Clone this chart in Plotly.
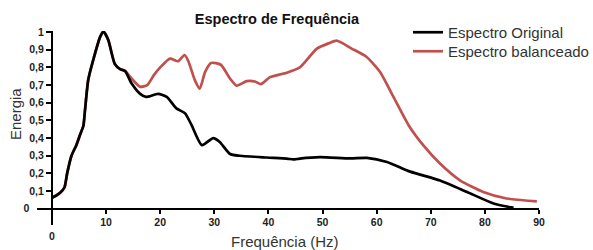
import plotly.graph_objects as go

# Data
freq_orig = [0, 0.8, 1.5, 2.3, 2.8, 3.6, 4.5, 5.2, 5.8, 6.1, 6.7, 7.6, 8.9, 9.5, 10.4, 11.6, 12.6,
             13.5, 14.7, 16.3, 17.4, 19.6, 21.2, 23.0, 24.6, 25.8, 27.7, 29.8, 31.0, 32.9, 34.7,
             39.7, 43.4, 44.6, 45.8, 49.5, 55.1, 58.2, 61.9, 66.2, 71.7, 76.7, 81.6, 85.3]
energia_orig = [0.062, 0.075, 0.09, 0.12, 0.2, 0.30, 0.36, 0.42, 0.47, 0.558, 0.73, 0.84, 0.973,
                1.003, 0.955, 0.82, 0.79, 0.78, 0.71, 0.65, 0.633, 0.65, 0.633, 0.568, 0.54, 0.473,
                0.36, 0.40, 0.378, 0.31, 0.30, 0.29, 0.284, 0.279, 0.284, 0.292, 0.285, 0.288,
                0.265, 0.21, 0.16, 0.095, 0.03, 0.005]

freq_bal = [0, 0.8, 1.5, 2.3, 2.8, 3.6, 4.5, 5.2, 5.8, 6.1, 6.7, 7.6, 8.9, 9.5, 10.4, 11.6, 12.6,
            13.5, 14.7, 16.3, 17.6, 18.8, 20.0, 21.8, 23.3, 24.5, 25.2, 26.4, 27.3, 28.3, 29.4,
            31.2, 32.9, 34.1, 36.0, 37.5, 38.6, 40.3, 43.4, 45.8, 48.9, 51.1, 52.7, 55.3, 58.1,
            60.6, 63.1, 65.9, 68.6, 71.7, 75.4, 79.7, 84.0, 89.6]
energia_bal = [0.062, 0.075, 0.09, 0.12, 0.2, 0.30, 0.36, 0.42, 0.47, 0.558, 0.73, 0.84, 0.973,
               1.003, 0.955, 0.82, 0.79, 0.78, 0.737, 0.69, 0.70, 0.755, 0.80, 0.85, 0.835, 0.87,
               0.835, 0.728, 0.68, 0.775, 0.825, 0.815, 0.737, 0.697, 0.722, 0.72, 0.705, 0.745,
               0.77, 0.80, 0.905, 0.936, 0.951, 0.908, 0.86, 0.775, 0.633, 0.473, 0.36, 0.256,
               0.161, 0.095, 0.058, 0.042]

x_ticks = [0, 10, 20, 30, 40, 50, 60, 70, 80, 90]
x_ticktext = ["<br>0", "10", "20", "30", "40", "50", "60", "70", "80", "90"]
y_ticks = [0, 0.1, 0.2, 0.3, 0.4, 0.5, 0.6, 0.7, 0.8, 0.9, 1]
y_ticktext = ["0\u00a0\u00a0\u00a0\u00a0\u00a0", "0,1", "0,2", "0,3", "0,4", "0,5", "0,6", "0,7",
              "0,8", "0,9", "1"]

x_range = [-2.77, 90]
y_range = [-0.092, 1.006]

RED = "#c0504d"
FONT = "Liberation Sans, Arial, sans-serif"

fig = go.Figure()
fig.add_trace(go.Scatter(x=freq_bal, y=energia_bal, mode="lines", name="Espectro balanceado",
                         line=dict(color=RED, width=2.7, shape="spline", smoothing=0.6),
                         legend="legend2"))
fig.add_trace(go.Scatter(x=freq_orig, y=energia_orig, mode="lines", name="Espectro Original",
                         line=dict(color="#000000", width=2.7, shape="spline", smoothing=0.6),
                         legend="legend"))

ypos = (0 - y_range[0]) / (y_range[1] - y_range[0])
xpos = (0 - x_range[0]) / (x_range[1] - x_range[0])

tickfont = dict(family=FONT, size=10.5, color="#222222", weight="bold")
legfont = dict(family=FONT, size=15, color="#333333")

fig.update_layout(
    width=593, height=250,
    margin=dict(l=37, r=54, t=31, b=25, autoexpand=False),
    paper_bgcolor="white", plot_bgcolor="white",
    title=dict(text="Espectro de Frequência", x=277 / 593, xanchor="center",
               y=1 - 19 / 250, yanchor="middle", yref="container",
               font=dict(family=FONT, size=14.5, color="#111111", weight="bold")),
    xaxis=dict(range=x_range, anchor="free", position=ypos, showline=True, linecolor="black",
               linewidth=2, ticks="outside", ticklen=4, tickwidth=1.5, tickcolor="black",
               tickvals=x_ticks, ticktext=x_ticktext, tickfont=tickfont, showgrid=False,
               zeroline=False, automargin=False),
    yaxis=dict(range=y_range, anchor="free", position=xpos, showline=True, linecolor="black",
               linewidth=2, ticks="outside", ticklen=5, tickwidth=1.5, tickcolor="black",
               tickvals=y_ticks, ticktext=y_ticktext, tickfont=tickfont, showgrid=False,
               zeroline=False, automargin=False),
    legend=dict(x=0.739, y=1 + (31 - 16) / 194, xanchor="left", yanchor="top",
                bgcolor="rgba(0,0,0,0)", font=legfont),
    legend2=dict(x=0.739, y=1 + (31 - 35) / 194, xanchor="left", yanchor="top",
                 bgcolor="rgba(0,0,0,0)", font=legfont),
    showlegend=True,
)

fig.add_annotation(text="Energia", xref="paper", yref="paper",
                   x=(15 - 37) / 502, y=(250 - 25 - 114) / 194,
                   showarrow=False, textangle=-90, xanchor="center", yanchor="middle",
                   font=dict(family=FONT, size=15, color="#333333"))
fig.add_annotation(text="Frequência (Hz)", xref="paper", yref="paper",
                   x=(285 - 37) / 502, y=-(241 - 225) / 194,
                   showarrow=False, xanchor="center", yanchor="middle",
                   font=dict(family=FONT, size=15, color="#333333"))

fig.write_html("out.html", config={"displayModeBar": False},
               post_script="document.body.style.margin='0px';")
